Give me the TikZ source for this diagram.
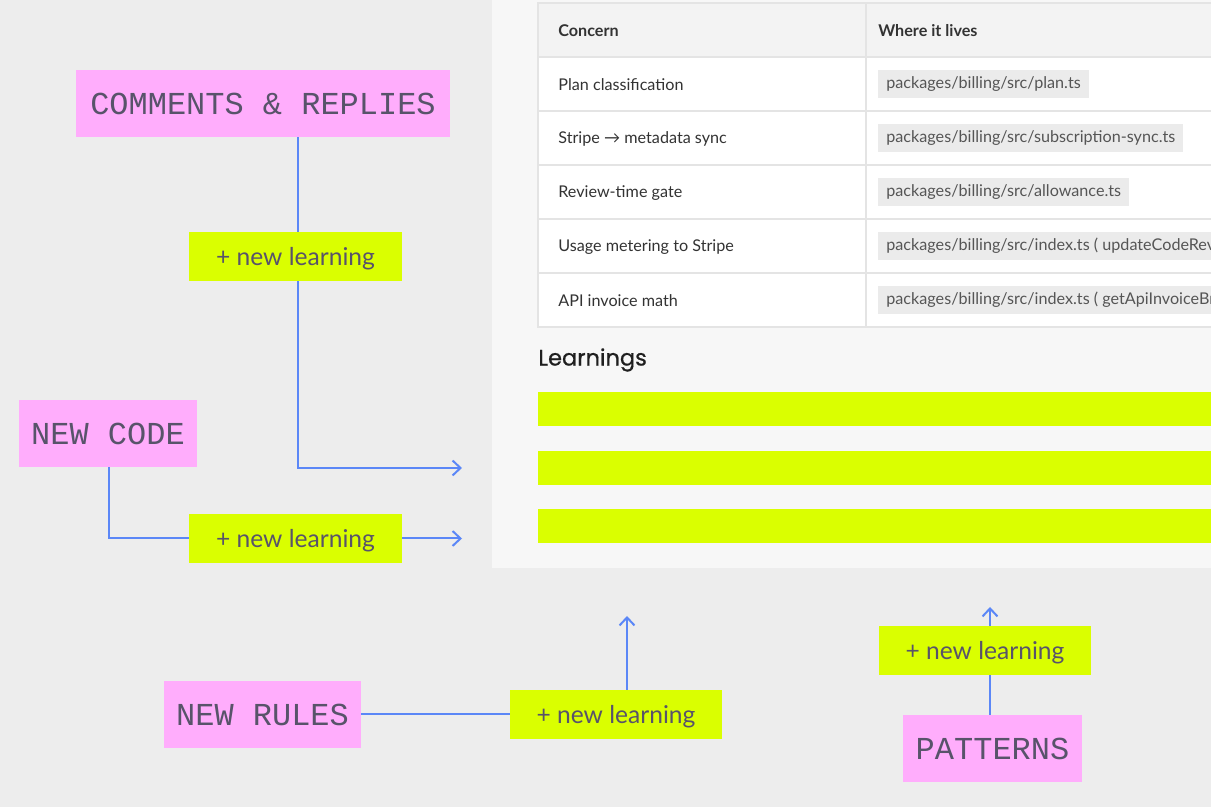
\documentclass[tikz,border=0pt]{standalone}
\usepackage{fontspec}
\usepackage{xcolor}
\usepackage{tikz}
\usetikzlibrary{arrows.meta,positioning}
\newfontfamily\tagfont{Liberation Mono}
\newfontfamily\uifont{Lato}
\newfontfamily\headfont[FakeBold=0.7]{Poppins}
\definecolor{kbBack}{HTML}{EDEDED}
\definecolor{kbPanel}{HTML}{F7F7F7}
\definecolor{kbHead}{HTML}{F3F3F3}
\definecolor{kbRule}{HTML}{E4E4E4}
\definecolor{kbChip}{HTML}{EBEBEB}
\definecolor{kbLime}{HTML}{DAFF00}
\definecolor{kbPink}{HTML}{FFADFC}
\definecolor{kbBlue}{HTML}{5B87F7}
\definecolor{kbInk}{HTML}{58536A}
\definecolor{kbText}{HTML}{333333}
\definecolor{kbPath}{HTML}{555555}
\tikzset{
  tag box/.style={fill=kbPink, text=kbInk, inner sep=0pt,
    minimum height=1.34cm, font=\tagfont\fontsize{18.2}{20}\selectfont},
  learn box/.style={fill=kbLime, text=kbInk, inner sep=0pt,
    minimum width=4.26cm, minimum height=0.98cm, text depth=0pt,
    font=\uifont\fontsize{14}{16}\selectfont},
  link/.style={draw=kbBlue, line width=1.14pt},
  link arrow/.style={link, -{Straight Barb[length=1.6mm,width=3mm]}},
  cell text/.style={anchor=west, inner sep=0pt, text=kbText,
    font=\uifont\fontsize{9.2}{11}\selectfont},
  head text/.style={cell text, font=\uifont\bfseries\fontsize{9.2}{11}\selectfont},
  path chip/.style={anchor=west, fill=kbChip, text=kbPath,
    minimum height=0.56cm, inner xsep=0.16cm, inner ysep=0pt,
    font=\uifont\fontsize{9.2}{11}\selectfont},
  table rule/.style={draw=kbRule, line width=0.6pt}
}
\begin{document}
\begin{tikzpicture}
  \useasboundingbox (0,0) rectangle (24.22,16.14);
  \clip (0,0) rectangle (24.22,16.14);
  \fill[kbBack] (0,0) rectangle (24.22,16.14);

  % document panel
  \fill[kbPanel] (9.84,4.78) rectangle (24.22,16.14);
  \fill[white] (10.76,9.60) rectangle (24.40,15.00);
  \fill[kbHead] (10.76,15.00) rectangle (24.40,16.08);
  \draw[table rule] (10.76,9.60) rectangle (24.40,16.08);
  \foreach \y in {15.00,13.92,12.84,11.76,10.68}
    \draw[table rule] (10.76,\y) -- (24.40,\y);
  \draw[table rule] (17.32,9.60) -- (17.32,16.08);

  \node[head text] (hconcern) at (11.16,15.52) {Concern};
  \node[head text] (hwhere) at (17.56,15.52) {Where it lives};
  \node[cell text] (c1) at (11.16,14.44) {Plan classification};
  \node[cell text] (c2) at (11.16,13.36) {Stripe → metadata sync};
  \node[cell text] (c3) at (11.16,12.28) {Review-time gate};
  \node[cell text] (c4) at (11.16,11.20) {Usage metering to Stripe};
  \node[cell text] (c5) at (11.16,10.12) {API invoice math};
  \node[path chip] (p1) at (17.56,14.46) {packages/billing/src/plan.ts};
  \node[path chip] (p2) at (17.56,13.38) {packages/billing/src/subscription-sync.ts};
  \node[path chip] (p3) at (17.56,12.30) {packages/billing/src/allowance.ts};
  \node[path chip] (p4) at (17.56,11.22) {packages/billing/src/index.ts ( updateCodeRev};
  \node[path chip] (p5) at (17.56,10.14) {packages/billing/src/index.ts ( getApiInvoiceBr};

  \node[anchor=west, inner sep=0pt, text=black!88,
    font=\headfont\fontsize{12.8}{14}\selectfont] (learnings) at (10.76,8.94) {Learnings};
  \foreach \y in {7.62,6.44,5.28}
    \fill[kbLime] (10.76,\y) rectangle (24.40,\y+0.68);

  % sources and learnings
  \node[tag box, minimum width=7.48cm] (comments) at (5.26,14.07) {COMMENTS \& REPLIES};
  \node[tag box, minimum width=3.56cm] (newcode) at (2.16,7.47) {NEW CODE};
  \node[tag box, minimum width=3.94cm] (newrules) at (5.25,1.85) {NEW RULES};
  \node[tag box, minimum width=3.58cm] (patterns) at (19.85,1.17) {PATTERNS};
  \node[learn box] (learn1) at (5.91,11.01) {+ new learning};
  \node[learn box] (learn2) at (5.91,5.37) {+ new learning};
  \node[learn box, minimum width=4.24cm] (learn3) at (12.32,1.85) {+ new learning};
  \node[learn box, minimum width=4.24cm] (learn4) at (19.70,3.13) {+ new learning};

  \coordinate (tip1) at (9.24,6.78);
  \coordinate (tip2) at (9.24,5.37);
  \coordinate (tip3) at (12.54,3.82);
  \coordinate (tip4) at (19.80,4.00);

  \draw[link] (comments.south -| 5.96,0) -- (learn1.north -| 5.96,0);
  \draw[link arrow] (learn1.south -| 5.96,0) |- (tip1);
  \draw[link] (newcode.south -| 2.18,0) |- (learn2.west);
  \draw[link arrow] (learn2.east) -- (tip2);
  \draw[link] (newrules.east) -- (learn3.west);
  \draw[link arrow] (learn3.north -| tip3) -- (tip3);
  \draw[link] (patterns.north -| tip4) -- (learn4.south -| tip4);
  \draw[link arrow] (learn4.north -| tip4) -- (tip4);
\end{tikzpicture}
\end{document}
